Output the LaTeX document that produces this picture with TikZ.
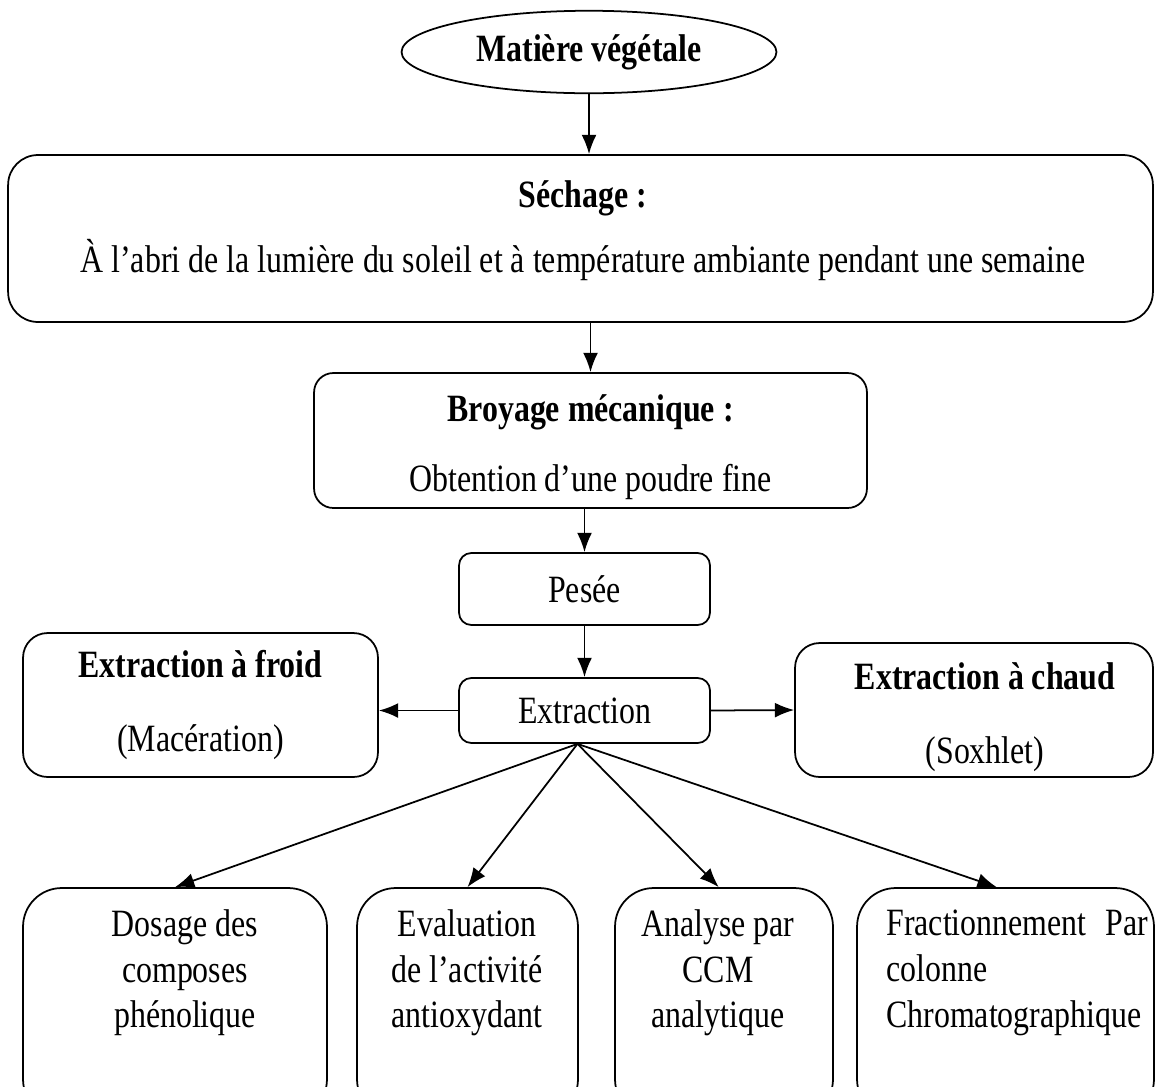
\documentclass[tikz,border=0pt]{standalone}
\usepackage{fontspec}
\setmainfont[FakeStretch=0.825]{Liberation Serif}
\usetikzlibrary{shapes.geometric,arrows.meta}

\tikzset{
	etape/.style={draw, line width=1pt, rounded corners=#1, align=center, inner sep=0pt},
	etape/.default=12pt,
	texte/.style={align=center, inner sep=0pt},
	fleche/.style={-{Latex[length=11pt,width=8.5pt]}, line width=1pt}
}

\begin{document}
\begin{tikzpicture}[x=0.02cm, y=-0.02cm, font=\fontsize{22}{26}\selectfont]
	% Cadre de l'image
	\useasboundingbox (0,0) rectangle (1155,1086);
	\clip (0,0) rectangle (1155,1086);
	% Etapes principales
	\node[draw, ellipse, line width=1pt, minimum width=7.5cm, minimum height=1.65cm] (mat) at (589,52) {\textbf{Mati\`ere v\'eg\'etale}};
	\node[etape=17pt, minimum width=22.9cm, minimum height=3.34cm] (sech) at (580.5,238.5) {};
	\node[texte] (sechT) at (583,231)
		{\textbf{S\'echage :}\\[11pt] \`A l'abri de la lumi\`ere du soleil et \`a temp\'erature ambiante pendant une semaine};
	\node[etape=11pt, minimum width=11.06cm, minimum height=2.7cm] (broy) at (590.5,440.5) {};
	\node[texte] (broyT) at (590.5,447)
		{\textbf{Broyage m\'ecanique :}\\[14pt] Obtention d'une poudre fine};
	\node[etape=7pt, minimum width=5.02cm, minimum height=1.44cm] (pes) at (584.5,589) {Pes\'ee};
	\node[etape=7pt, minimum width=5.02cm, minimum height=1.3cm] (extr) at (584.5,710.5) {Extraction};
	% Types d'extraction
	\node[etape=14pt, minimum width=7.1cm, minimum height=2.88cm] (froid) at (200.5,705)
		{\textbf{Extraction \`a froid}\\[16pt] (Mac\'eration)};
	\node[etape=14pt, minimum width=7.16cm, minimum height=2.68cm] (chaud) at (974,710) {};
	\node[texte] (chaudT) at (985,717) {\textbf{Extraction \`a chaud}\\[16pt] (Soxhlet)};
	% Analyses de l'extrait
	\node[etape=22pt, minimum width=6.08cm, minimum height=4.6cm] (dos) at (175,1003) {};
	\node[etape=22pt, minimum width=4.42cm, minimum height=4.6cm] (eva) at (467.5,1003) {};
	\node[etape=22pt, minimum width=4.36cm, minimum height=4.6cm] (ana) at (724,1003) {};
	\node[etape=22pt, minimum width=5.94cm, minimum height=4.6cm] (fra) at (1005.5,1003) {};
	\node[texte] (dosT) at (185,973) {Dosage des\\composes\\ph\'enolique};
	\node[texte] (evaT) at (467,973) {Evaluation\\de l'activit\'e\\antioxydant};
	\node[texte] (anaT) at (718,973) {Analyse par\\CCM\\analytique};
	\node[texte, align=left, anchor=west] (fraT) at (886,973) {Fractionnement\enspace Par\\colonne\\Chromatographique};
	% Fleches
	\draw[fleche] (mat.south) -- (mat.south |- sech.north);
	\draw[fleche] (broy.north |- sech.south) -- (broy.north);
	\draw[fleche] (pes.north |- broy.south) -- (pes.north);
	\draw[fleche] (pes.south) -- (extr.north);
	\draw[fleche] (extr.west) -- (extr.west -| froid.east);
	\draw[fleche] (extr.east) -- (chaud.west);
	\draw[fleche] ([xshift=-4pt]extr.south) -- (dos.north);
	\draw[fleche] ([xshift=-4pt]extr.south) -- (eva.north);
	\draw[fleche] ([xshift=-4pt]extr.south) -- ([xshift=-3pt]ana.north);
	\draw[fleche] ([xshift=-4pt]extr.south) -- ([xshift=-5pt]fra.north);
\end{tikzpicture}
\end{document}
